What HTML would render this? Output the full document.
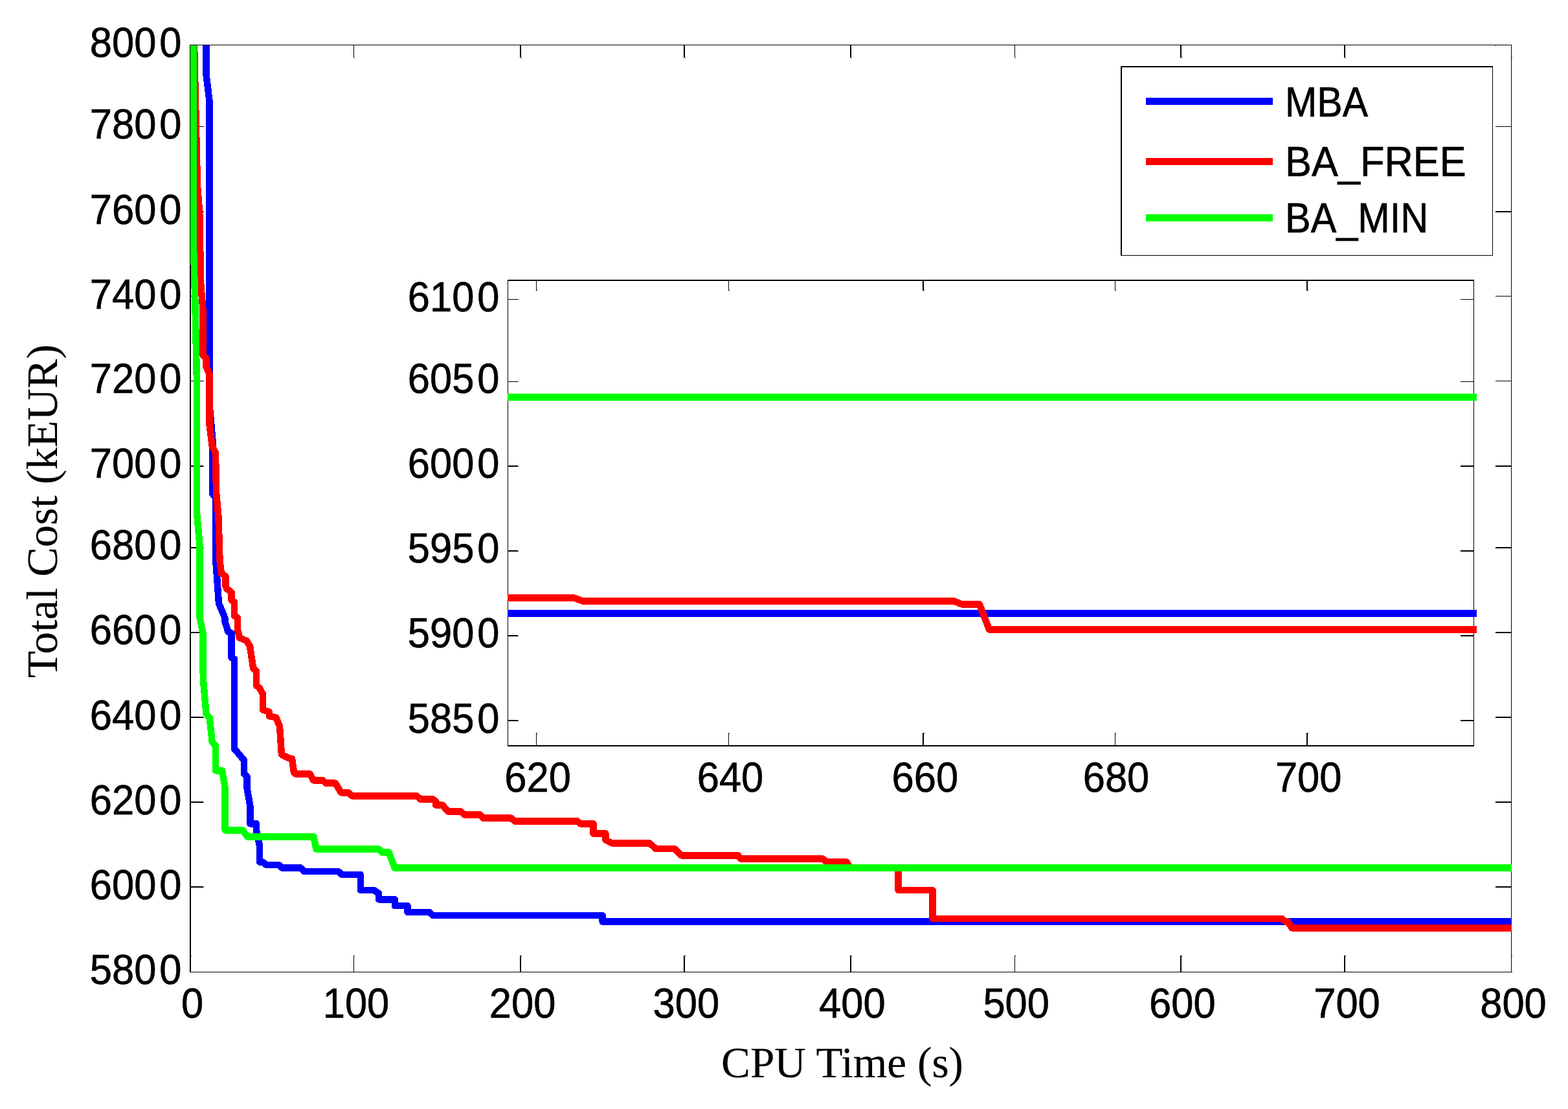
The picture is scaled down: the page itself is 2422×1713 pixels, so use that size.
<!DOCTYPE html>
<html lang="en"><head><meta charset="utf-8"><title>Total Cost vs CPU Time</title>
<style>
html,body{margin:0;padding:0;background:#fff;}
body{width:2422px;height:1713px;overflow:hidden;}
svg{display:block;}
.sans{font-family:"Liberation Sans",Arial,Helvetica,sans-serif;fill:#000;stroke:#000;stroke-width:0.7px;}
.serif{font-family:"Liberation Serif","Times New Roman",Times,serif;fill:#000;stroke:#000;stroke-width:0.15px;}
.ln{fill:none;stroke-linejoin:round;stroke-linecap:butt;}
.ax{shape-rendering:crispEdges;}
</style></head><body>
<svg width="2422" height="1713" viewBox="0 0 2422 1713">
<rect x="0" y="0" width="2422" height="1713" fill="#fff"/>
<defs><clipPath id="cm"><rect x="294" y="70" width="2041" height="1431"/></clipPath></defs>
<g class="ax">
<rect x="293" y="69" width="2" height="1433" fill="#000"/>
<rect x="293" y="69" width="2042" height="1" fill="#000"/>
<rect x="2334" y="69" width="1" height="1433" fill="#000"/>
<rect x="293" y="1501" width="2043" height="1" fill="#000"/>
<rect x="546" y="69" width="1" height="20" fill="#000"/>
<rect x="547" y="89" width="1" height="1" fill="#000"/>
<rect x="546" y="1476" width="1" height="25" fill="#000"/>
<rect x="547" y="1476" width="1" height="1" fill="#000"/>
<rect x="803" y="69" width="2" height="20" fill="#000"/>
<rect x="805" y="89" width="1" height="1" fill="#000"/>
<rect x="803" y="1476" width="2" height="25" fill="#000"/>
<rect x="805" y="1476" width="1" height="1" fill="#000"/>
<rect x="1056" y="69" width="2" height="20" fill="#000"/>
<rect x="1058" y="89" width="1" height="1" fill="#000"/>
<rect x="1056" y="1476" width="2" height="25" fill="#000"/>
<rect x="1058" y="1476" width="1" height="1" fill="#000"/>
<rect x="1313" y="69" width="2" height="20" fill="#000"/>
<rect x="1315" y="89" width="1" height="1" fill="#000"/>
<rect x="1313" y="1476" width="2" height="25" fill="#000"/>
<rect x="1315" y="1476" width="1" height="1" fill="#000"/>
<rect x="1567" y="69" width="1" height="20" fill="#000"/>
<rect x="1568" y="89" width="1" height="1" fill="#000"/>
<rect x="1567" y="1476" width="1" height="25" fill="#000"/>
<rect x="1568" y="1476" width="1" height="1" fill="#000"/>
<rect x="1823" y="69" width="2" height="20" fill="#000"/>
<rect x="1825" y="89" width="1" height="1" fill="#000"/>
<rect x="1823" y="1476" width="2" height="25" fill="#000"/>
<rect x="1825" y="1476" width="1" height="1" fill="#000"/>
<rect x="2076" y="69" width="2" height="20" fill="#000"/>
<rect x="2078" y="89" width="1" height="1" fill="#000"/>
<rect x="2076" y="1476" width="2" height="25" fill="#000"/>
<rect x="2078" y="1476" width="1" height="1" fill="#000"/>
<rect x="295" y="1476" width="1" height="1" fill="#000"/>
<rect x="2335" y="89" width="1" height="1" fill="#000"/>
<rect x="2335" y="1477" width="1" height="1" fill="#000"/>
<rect x="293" y="195" width="21" height="1" fill="#000"/>
<rect x="314" y="195" width="1" height="1" fill="#000"/>
<rect x="2310" y="195" width="24" height="1" fill="#000"/>
<rect x="293" y="326" width="21" height="2" fill="#000"/>
<rect x="314" y="327" width="1" height="1" fill="#000"/>
<rect x="2310" y="326" width="24" height="2" fill="#000"/>
<rect x="293" y="457" width="21" height="1" fill="#000"/>
<rect x="314" y="457" width="1" height="1" fill="#000"/>
<rect x="2310" y="457" width="24" height="1" fill="#000"/>
<rect x="293" y="588" width="21" height="1" fill="#000"/>
<rect x="314" y="588" width="1" height="1" fill="#000"/>
<rect x="2310" y="588" width="24" height="1" fill="#000"/>
<rect x="293" y="719" width="21" height="2" fill="#000"/>
<rect x="314" y="720" width="1" height="1" fill="#000"/>
<rect x="2310" y="719" width="24" height="2" fill="#000"/>
<rect x="293" y="845" width="21" height="2" fill="#000"/>
<rect x="314" y="846" width="1" height="1" fill="#000"/>
<rect x="2310" y="845" width="24" height="2" fill="#000"/>
<rect x="293" y="976" width="21" height="2" fill="#000"/>
<rect x="314" y="977" width="1" height="1" fill="#000"/>
<rect x="2310" y="976" width="24" height="2" fill="#000"/>
<rect x="293" y="1107" width="21" height="2" fill="#000"/>
<rect x="314" y="1108" width="1" height="1" fill="#000"/>
<rect x="2310" y="1107" width="24" height="2" fill="#000"/>
<rect x="293" y="1238" width="21" height="2" fill="#000"/>
<rect x="314" y="1239" width="1" height="1" fill="#000"/>
<rect x="2310" y="1238" width="24" height="2" fill="#000"/>
<rect x="293" y="1369" width="21" height="2" fill="#000"/>
<rect x="314" y="1370" width="1" height="1" fill="#000"/>
<rect x="2310" y="1369" width="24" height="2" fill="#000"/>
<rect x="2310" y="70" width="1" height="1" fill="#000"/>
</g>
<g class="ln ax" clip-path="url(#cm)">
<polyline points="318.5,60 318.5,115 323.5,156 323.5,624 328.4,680 328.4,763 333.3,768 333.3,866 338,932 347.3,954 347.4,960 352.5,976 357.6,978 357.6,1016 362,1018 362,1156.6 376.8,1174 376.8,1194.8 381.5,1199 381.5,1217 386.4,1245 386.4,1272.4 396.2,1272.4 396.2,1283.5 400.9,1305.6 400.9,1331.5 405.6,1331.5 411.5,1336.2 430.8,1336.2 435.2,1340.4 464,1340.4 470,1346 522.4,1346 528.3,1350.9 556.8,1350.9 556.8,1374.8 577,1374.8 585.2,1380 585.3,1389.4 610,1389.4 610,1399 629.5,1399 629.5,1409.1 663.5,1409.1 668.7,1414.2 930.6,1414.2 930.6,1423.5 2335,1423.5" stroke="#0000ff" stroke-width="10.5"/>
<polyline points="299.8,60 301,114 302,158 303,200 304,245 305,287 307,313 309,340 309.5,430 312.5,467 313.6,480 313.6,549 318.5,553 318.5,566 323.5,578 323.5,655 327.5,688 333,700 334,760 337.5,799 339.5,866 342,886 348.4,890 348.4,905 350,909 357.6,915 357.6,927 362,930 362,951 366.8,954 367,972 370,985 381,990 386,998 391.3,1033 396.2,1036.5 396.2,1059 401,1063 406,1072 406,1096.5 415.5,1099.5 416,1106 426.5,1108.5 432,1122 435,1165.7 446,1171 451,1172 454,1193 456.5,1195.4 478.8,1195.4 484,1205.3 498.7,1205.3 503.2,1209.7 518,1209.7 526.8,1224.3 537.9,1224.3 543.8,1229.4 643.6,1229.4 649.5,1234.5 668.7,1234.5 673.4,1238 673.4,1243.6 683.5,1243.6 692.3,1253.5 711.5,1253.5 717.5,1258.3 741,1258.3 746.3,1263.7 789.9,1263.7 795,1268.4 891.8,1268.4 896.3,1272.4 916.5,1272.4 916.5,1287.5 935.4,1287.5 935.4,1297.5 945,1302.3 1003.4,1302.3 1013,1311.1 1041.8,1311.1 1052.2,1321.3 1140,1321.3 1144.6,1326.5 1270.9,1326.5 1276.8,1331.4 1307.8,1331.4 1313,1340.6 1387.5,1340.6 1387.5,1375.1 1440.7,1375.1 1440.7,1418.9 1980,1418.9 1985,1423.3 1989,1423.6 1995.5,1433.4 2335,1433.4" stroke="#ff0000" stroke-width="10.5"/>
<polyline points="299,60 299,380 300.3,430 301.3,465 302.5,520 303.4,560 304.2,601 304.2,795 308.6,843 308.6,954 313.4,978 313.8,1049 317.7,1093 318.5,1103 323.7,1108.5 327.7,1146 333,1152 333,1190.3 343.1,1190.3 347.7,1217 347.7,1282.3 374.6,1282.3 382.7,1292.6 484.7,1292.6 488.4,1311.5 585.2,1311.5 590,1316.6 600.7,1316.6 609.6,1340.5 2335,1340.5" stroke="#00ff00" stroke-width="10.5"/>
</g>
<g class="ax">
<rect x="784" y="432" width="1493" height="720" fill="#fff"/>
<rect x="784" y="432" width="1" height="720" fill="#000"/>
<rect x="784" y="432" width="1493" height="2" fill="#000"/>
<rect x="2276" y="432" width="1" height="720" fill="#000"/>
<rect x="784" y="1151" width="1493" height="2" fill="#000"/>
<rect x="828" y="432" width="1" height="17" fill="#000"/>
<rect x="829" y="448" width="1" height="1" fill="#000"/>
<rect x="828" y="1132" width="1" height="19" fill="#000"/>
<rect x="829" y="1132" width="1" height="1" fill="#000"/>
<rect x="1125" y="432" width="1" height="17" fill="#000"/>
<rect x="1126" y="448" width="1" height="1" fill="#000"/>
<rect x="1125" y="1132" width="1" height="19" fill="#000"/>
<rect x="1126" y="1132" width="1" height="1" fill="#000"/>
<rect x="1425" y="432" width="2" height="17" fill="#000"/>
<rect x="1427" y="448" width="1" height="1" fill="#000"/>
<rect x="1425" y="1132" width="2" height="19" fill="#000"/>
<rect x="1427" y="1132" width="1" height="1" fill="#000"/>
<rect x="1722" y="432" width="1" height="17" fill="#000"/>
<rect x="1723" y="448" width="1" height="1" fill="#000"/>
<rect x="1722" y="1132" width="1" height="19" fill="#000"/>
<rect x="1723" y="1132" width="1" height="1" fill="#000"/>
<rect x="2018" y="432" width="2" height="17" fill="#000"/>
<rect x="2020" y="448" width="1" height="1" fill="#000"/>
<rect x="2018" y="1132" width="2" height="19" fill="#000"/>
<rect x="2020" y="1132" width="1" height="1" fill="#000"/>
<rect x="784" y="462" width="16" height="1" fill="#000"/>
<rect x="800" y="462" width="1" height="1" fill="#000"/>
<rect x="2256" y="462" width="20" height="1" fill="#000"/>
<rect x="784" y="589" width="16" height="1" fill="#000"/>
<rect x="800" y="589" width="1" height="1" fill="#000"/>
<rect x="2256" y="589" width="20" height="1" fill="#000"/>
<rect x="784" y="719" width="16" height="2" fill="#000"/>
<rect x="800" y="720" width="1" height="1" fill="#000"/>
<rect x="2256" y="719" width="20" height="2" fill="#000"/>
<rect x="784" y="850" width="16" height="2" fill="#000"/>
<rect x="800" y="851" width="1" height="1" fill="#000"/>
<rect x="2256" y="850" width="20" height="2" fill="#000"/>
<rect x="784" y="981" width="16" height="2" fill="#000"/>
<rect x="800" y="982" width="1" height="1" fill="#000"/>
<rect x="2256" y="981" width="20" height="2" fill="#000"/>
<rect x="784" y="1112" width="16" height="2" fill="#000"/>
<rect x="800" y="1113" width="1" height="1" fill="#000"/>
<rect x="2256" y="1112" width="20" height="2" fill="#000"/>
</g>
<g class="ln ax">
<polyline points="784,947.5 2281,947.5" stroke="#0000ff" stroke-width="10.5"/>
<polyline points="784,923.7 887,923.7 901,928.7 1474,928.7 1486,933.5 1513,933.5 1528,972.4 2281,972.4" stroke="#ff0000" stroke-width="10.5"/>
<polyline points="784,613.5 2281,613.5" stroke="#00ff00" stroke-width="10.5"/>
</g>
<g class="ax">
<rect x="1731" y="102" width="575" height="293" fill="#fff"/>
<rect x="1731" y="102" width="2" height="293" fill="#000"/>
<rect x="1731" y="102" width="575" height="2" fill="#000"/>
<rect x="2305" y="102" width="1" height="293" fill="#000"/>
<rect x="1731" y="394" width="575" height="1" fill="#000"/>
<rect x="1770" y="151" width="196" height="11" fill="#0000ff"/>
<rect x="1770" y="244" width="196" height="11" fill="#ff0000"/>
<rect x="1770" y="331" width="196" height="11" fill="#00ff00"/>
</g>
<text class="sans" transform="translate(1985 180) scale(0.905 1)" font-size="65.3" text-anchor="start">MBA</text>
<text class="sans" transform="translate(1985 272.2) scale(0.94 1)" font-size="65.3" text-anchor="start">BA_FREE</text>
<text class="sans" transform="translate(1985 359.3) scale(0.91 1)" font-size="65.3" text-anchor="start">BA_MIN</text>
<text class="sans" transform="translate(280.5 87.5) scale(0.942 1)" font-size="65.3" text-anchor="end" dx="0 0 0 5.1">8000</text>
<text class="sans" transform="translate(280.5 214) scale(0.942 1)" font-size="65.3" text-anchor="end" dx="0 0 0 5.1">7800</text>
<text class="sans" transform="translate(280.5 345.5) scale(0.942 1)" font-size="65.3" text-anchor="end" dx="0 0 0 5.1">7600</text>
<text class="sans" transform="translate(280.5 476.5) scale(0.942 1)" font-size="65.3" text-anchor="end" dx="0 0 0 5.1">7400</text>
<text class="sans" transform="translate(280.5 607) scale(0.942 1)" font-size="65.3" text-anchor="end" dx="0 0 0 5.1">7200</text>
<text class="sans" transform="translate(280.5 738) scale(0.942 1)" font-size="65.3" text-anchor="end" dx="0 0 0 5.1">7000</text>
<text class="sans" transform="translate(280.5 864) scale(0.942 1)" font-size="65.3" text-anchor="end" dx="0 0 0 5.1">6800</text>
<text class="sans" transform="translate(280.5 995) scale(0.942 1)" font-size="65.3" text-anchor="end" dx="0 0 0 5.1">6600</text>
<text class="sans" transform="translate(280.5 1126.5) scale(0.942 1)" font-size="65.3" text-anchor="end" dx="0 0 0 5.1">6400</text>
<text class="sans" transform="translate(280.5 1257.5) scale(0.942 1)" font-size="65.3" text-anchor="end" dx="0 0 0 5.1">6200</text>
<text class="sans" transform="translate(280.5 1388.5) scale(0.942 1)" font-size="65.3" text-anchor="end" dx="0 0 0 5.1">6000</text>
<text class="sans" transform="translate(280.5 1519.5) scale(0.942 1)" font-size="65.3" text-anchor="end" dx="0 0 0 5.1">5800</text>
<text class="sans" transform="translate(297 1572.3) scale(0.942 1)" font-size="65.3" text-anchor="middle">0</text>
<text class="sans" transform="translate(550 1572.3) scale(0.942 1)" font-size="65.3" text-anchor="middle">100</text>
<text class="sans" transform="translate(807.1 1572.3) scale(0.942 1)" font-size="65.3" text-anchor="middle">200</text>
<text class="sans" transform="translate(1059.9 1572.3) scale(0.942 1)" font-size="65.3" text-anchor="middle">300</text>
<text class="sans" transform="translate(1316.4 1572.3) scale(0.942 1)" font-size="65.3" text-anchor="middle">400</text>
<text class="sans" transform="translate(1569.7 1572.3) scale(0.942 1)" font-size="65.3" text-anchor="middle">500</text>
<text class="sans" transform="translate(1826.3 1572.3) scale(0.942 1)" font-size="65.3" text-anchor="middle">600</text>
<text class="sans" transform="translate(2080.5 1572.3) scale(0.942 1)" font-size="65.3" text-anchor="middle">700</text>
<text class="sans" transform="translate(2337.5 1572.3) scale(0.942 1)" font-size="65.3" text-anchor="middle">800</text>
<text class="sans" transform="translate(771.5 481.1) scale(0.942 1)" font-size="65.3" text-anchor="end" dx="0 0 0 5.1">6100</text>
<text class="sans" transform="translate(771.5 607.4) scale(0.942 1)" font-size="65.3" text-anchor="end" dx="0 0 0 5.1">6050</text>
<text class="sans" transform="translate(771.5 738.4) scale(0.942 1)" font-size="65.3" text-anchor="end" dx="0 0 0 5.1">6000</text>
<text class="sans" transform="translate(771.5 869.4) scale(0.942 1)" font-size="65.3" text-anchor="end" dx="0 0 0 5.1">5950</text>
<text class="sans" transform="translate(771.5 1000.4) scale(0.942 1)" font-size="65.3" text-anchor="end" dx="0 0 0 5.1">5900</text>
<text class="sans" transform="translate(771.5 1131.6) scale(0.942 1)" font-size="65.3" text-anchor="end" dx="0 0 0 5.1">5850</text>
<text class="sans" transform="translate(830.6 1223.4) scale(0.942 1)" font-size="65.3" text-anchor="middle">620</text>
<text class="sans" transform="translate(1128 1223.4) scale(0.942 1)" font-size="65.3" text-anchor="middle">640</text>
<text class="sans" transform="translate(1428.8 1223.4) scale(0.942 1)" font-size="65.3" text-anchor="middle">660</text>
<text class="sans" transform="translate(1724 1223.4) scale(0.942 1)" font-size="65.3" text-anchor="middle">680</text>
<text class="sans" transform="translate(2021.2 1223.4) scale(0.942 1)" font-size="65.3" text-anchor="middle">700</text>
<text class="serif" transform="translate(1301 1664)" font-size="67.3" text-anchor="middle">CPU Time (s)</text>
<text class="serif" transform="translate(88.4 789.6) rotate(-90) scale(1.016 1)" font-size="67.3" text-anchor="middle">Total Cost (kEUR)</text>
</svg>
</body></html>
